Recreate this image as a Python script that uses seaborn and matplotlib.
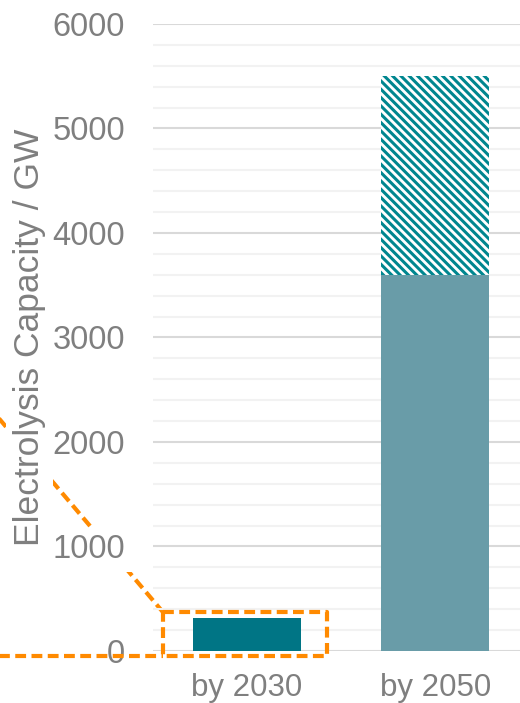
import pandas as pd
import seaborn as sns
import matplotlib.pyplot as plt
from matplotlib.ticker import MultipleLocator

# data (GW)
periods = ['by 2030', 'by 2050']
base_gw = [315, 3600]
total_gw = [315, 5500]
bar_colors = ['#007585', '#699CA8']
hatch_color = '#00868F'
orange = '#FF8A00'

df = pd.DataFrame({'period': periods, 'base': base_gw, 'total': total_gw})

sns.set_style('white')
plt.rcParams['font.family'] = ['Liberation Sans', 'DejaVu Sans']
plt.rcParams['hatch.linewidth'] = 2.2

fig = plt.figure(figsize=(5.2, 7.03), dpi=100)
ax = fig.add_axes([0.294, 0.074, 0.706, 0.892])

# upper, hatched part (drawn as the full total, then covered by the base)
sns.barplot(data=df, x='period', y='total', color='white', width=0.575,
            saturation=1, linewidth=0, edgecolor=hatch_color, ax=ax, zorder=2)
for p in ax.patches:
    p.set_hatch('\\\\\\\\')
    p.set_edgecolor(hatch_color)
    p.set_linewidth(0)

sns.barplot(data=df, x='period', y='base', hue='period', palette=bar_colors,
            saturation=1, width=0.575, linewidth=0, legend=False, ax=ax,
            zorder=3)

ax.set_ylim(0, 6000)
ax.set_xlim(-0.5, 1.45)
ax.yaxis.set_major_locator(MultipleLocator(1000))
ax.yaxis.set_minor_locator(MultipleLocator(200))
ax.grid(axis='y', which='major', color='#D9D9D9', linewidth=1.5, zorder=0)
ax.grid(axis='y', which='minor', color='#F2F2F2', linewidth=1.5, zorder=0)
ax.set_axisbelow(True)
sns.despine(ax=ax, left=True, bottom=True)

ax.tick_params(axis='y', which='both', length=0, pad=20, labelsize=23.5,
               labelcolor='#7F7F7F')
ax.tick_params(axis='x', length=0, pad=16, labelsize=22.5, labelcolor='#7F7F7F')
ax.set_xlabel('')
ax.set_ylabel('Electrolysis Capacity / GW', fontsize=25.5, color='#7F7F7F')
ax.yaxis.set_label_coords(-0.29, 0.5)

# labels sit on white so the zoom line passes behind them
white = dict(facecolor='white', edgecolor='none', boxstyle='square', pad=0.2)
for t in ax.get_yticklabels():
    t.set_bbox(white)
ax.yaxis.label.set_bbox(white)

# orange dashed zoom box around the 2030 bar
box_x = [-0.447, 0.426, 0.426, -0.447, -0.447]
box_y = [373, 373, -48, -48, 373]
dash = dict(color=orange, linewidth=3, linestyle=(0, (2.6, 1.3)), clip_on=False)
ax.plot(box_x, box_y, zorder=5, **dash)
ax.plot([-1.32, -0.447], [-48, -48], zorder=5, **dash)
ax.plot([-1.32, -0.447], [2230, 373], zorder=0.4, **dash)

fig.savefig('out.png', dpi=100)
